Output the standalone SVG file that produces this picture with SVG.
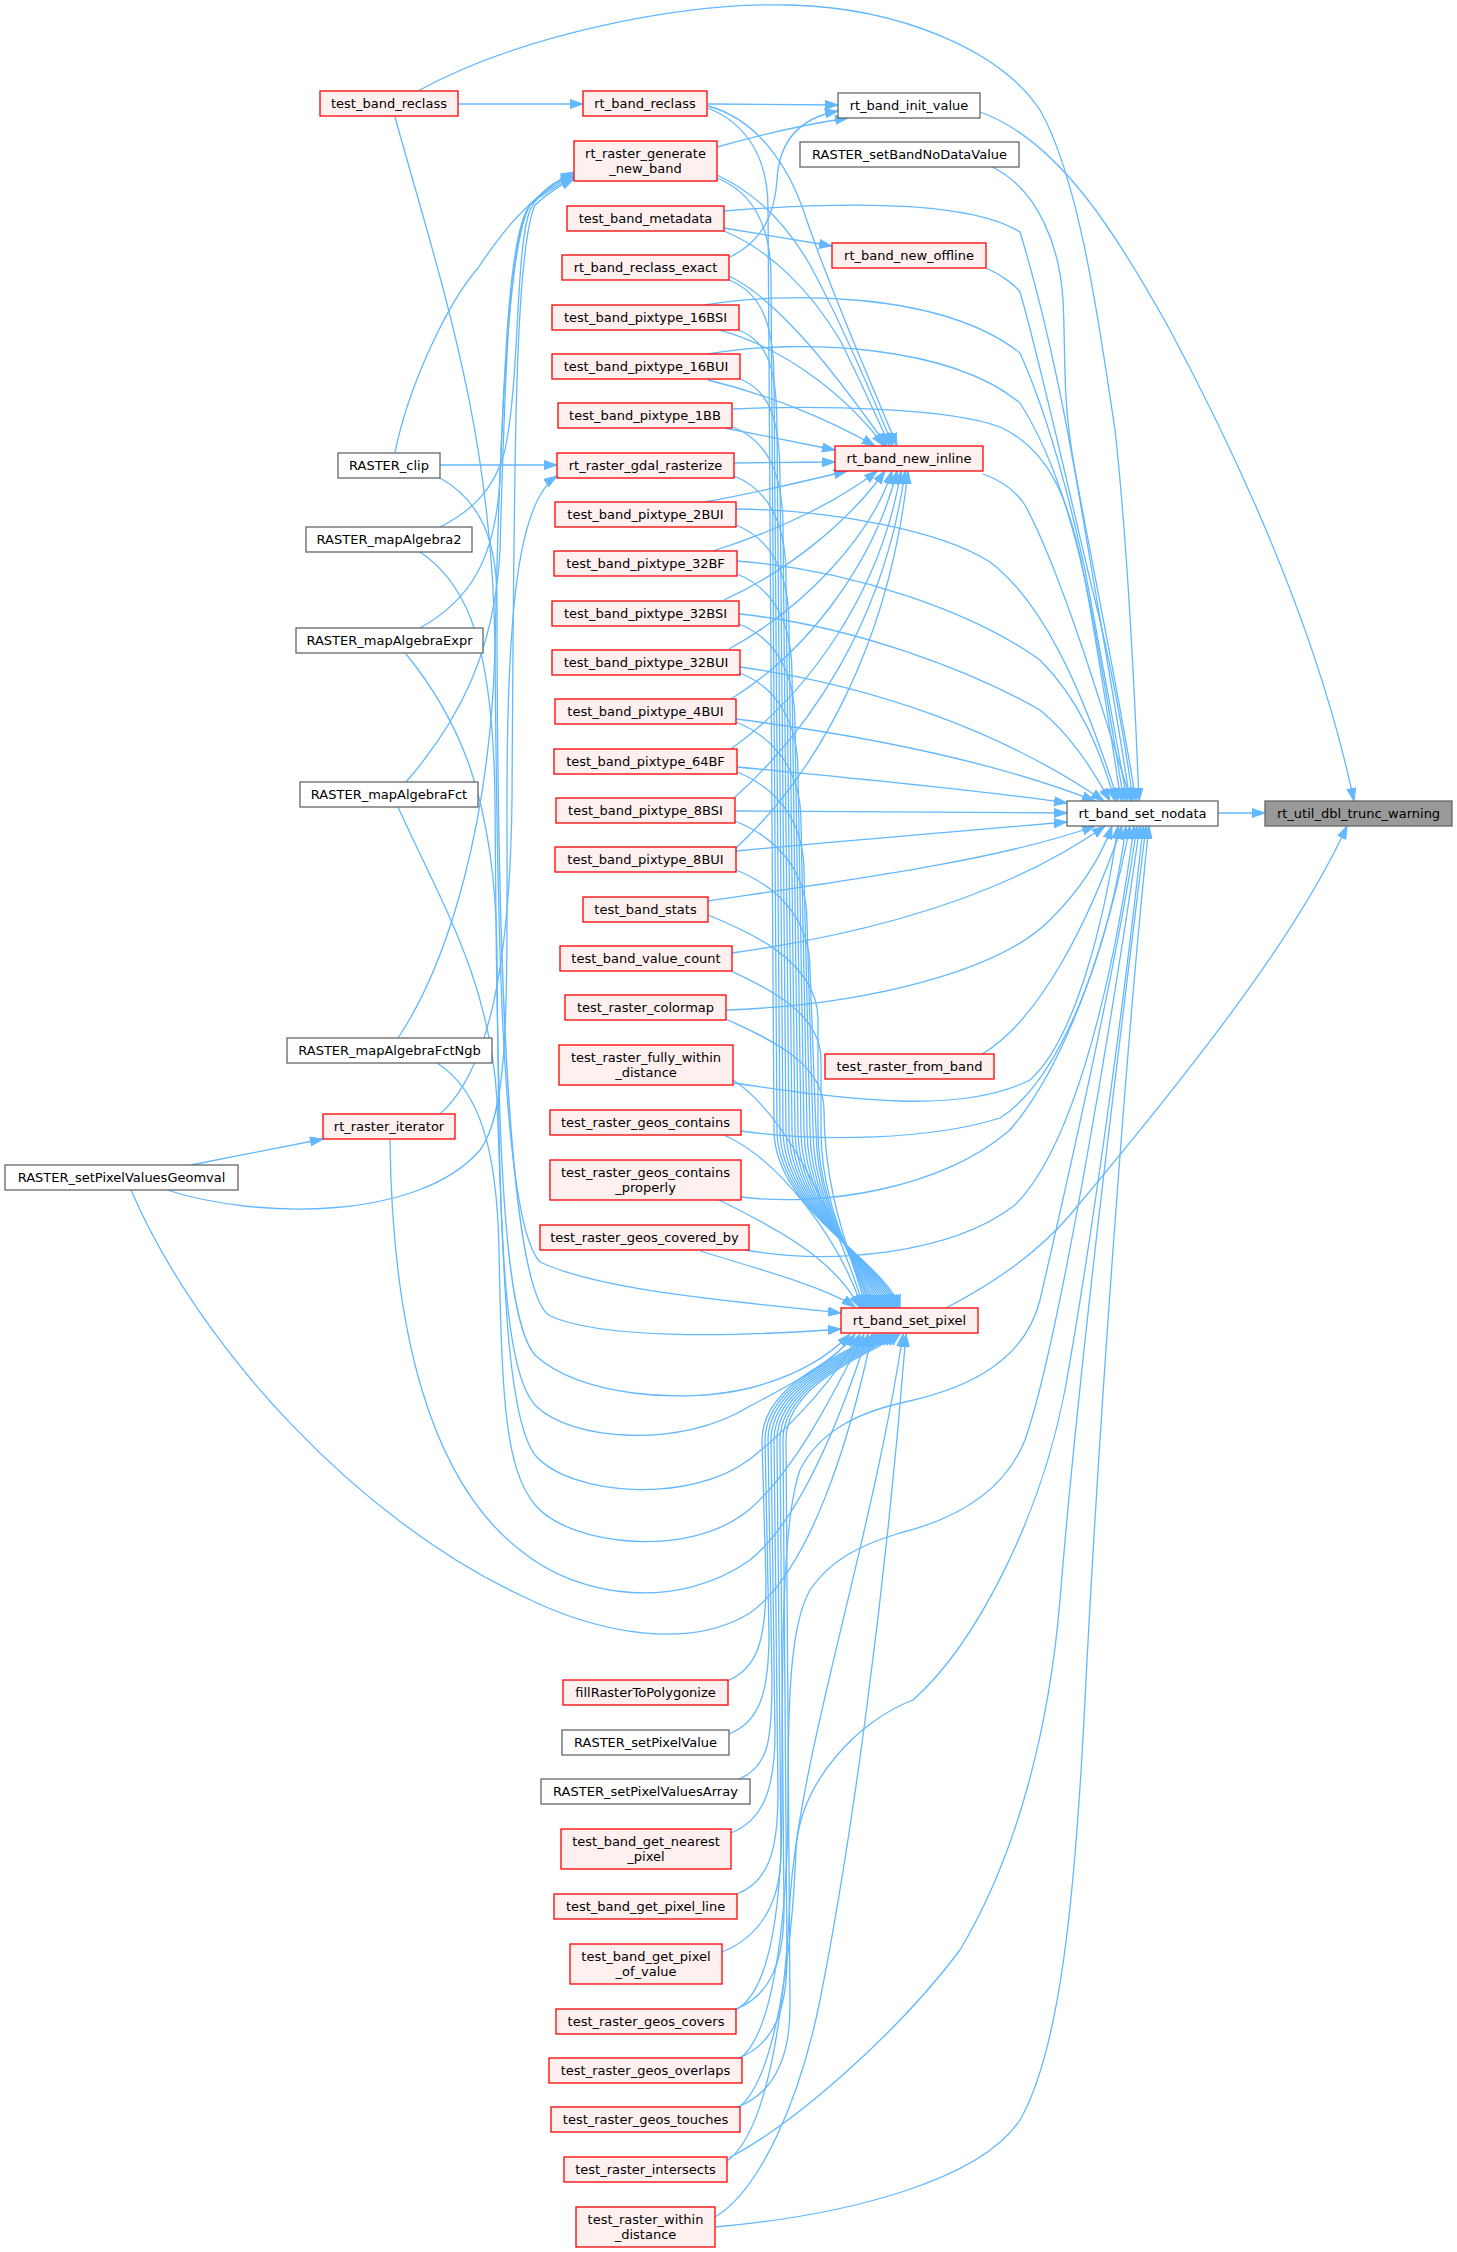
<svg xmlns="http://www.w3.org/2000/svg" width="1457" height="2252" viewBox="0 0 1457 2252">
<defs>
<marker id="a" markerUnits="userSpaceOnUse" markerWidth="14" markerHeight="10" refX="13" refY="5" orient="auto"><path d="M0,0.5 L13,5 L0,9.5 z" fill="#63b8ff" stroke="#63b8ff"/></marker>
</defs>
<style>
.r{fill:#fff0f0;stroke:#ff0000;stroke-width:1.3}
.g{fill:#ffffff;stroke:#666666;stroke-width:1.3}
.f{fill:#999999;stroke:#666666;stroke-width:1.3}
text{font-family:"DejaVu Sans","Liberation Sans",sans-serif;font-size:13px;text-anchor:middle;fill:#000}
.e{fill:none;stroke:#63b8ff;stroke-width:1.3;marker-end:url(#a)}
</style>
<rect width="1457" height="2252" fill="#ffffff"/>
<g id="edges">
<path class="e" d="M1218,813 L1265,813"/>
<path class="e" d="M980,112 C1060,140 1120,240 1170,330 C1250,480 1320,640 1354,801"/>
<path class="e" d="M946,1308 C1000,1280 1040,1250 1070,1215 C1200,1060 1300,930 1347,826"/>
<path class="e" d="M418,91 C520,35 680,2 790,5 C900,8 1000,50 1040,110 C1080,180 1100,330 1115,430 C1125,520 1133,650 1139,801"/>
<path class="e" d="M992,167 C1040,190 1060,250 1063,300 C1066,360 1062,400 1075,470 C1095,580 1120,700 1136,801"/>
<path class="e" d="M986,268 C1000,274 1015,285 1020,292 C1040,360 1080,540 1095,600 C1110,660 1125,740 1133,801"/>
<path class="e" d="M724,211 C800,205 960,195 1020,232 C1050,330 1070,440 1085,530 C1100,620 1118,720 1130,801"/>
<path class="e" d="M705,305 C780,292 940,290 1020,353 C1050,420 1070,500 1085,570 C1100,650 1115,730 1127,801"/>
<path class="e" d="M708,354 C800,338 950,345 1020,403 C1050,450 1070,510 1085,580 C1100,650 1112,730 1124,801"/>
<path class="e" d="M733,409 C820,405 950,408 1000,427 C1050,450 1070,500 1085,580 C1098,650 1110,730 1121,801"/>
<path class="e" d="M983,474 C1000,480 1015,490 1025,505 C1060,570 1100,700 1131,801"/>
<path class="e" d="M736,509 C830,510 940,530 990,562 C1040,600 1080,680 1118,801"/>
<path class="e" d="M737,561 C850,570 970,610 1040,660 C1080,700 1100,750 1115,801"/>
<path class="e" d="M739,614 C850,625 970,670 1040,710 C1070,735 1090,765 1110,801"/>
<path class="e" d="M740,667 C870,685 1000,730 1104,801"/>
<path class="e" d="M736,719 C860,735 990,760 1095,801"/>
<path class="e" d="M737,767 C850,778 980,790 1067,803"/>
<path class="e" d="M735,811 L1067,813"/>
<path class="e" d="M736,851 C850,840 980,830 1067,822"/>
<path class="e" d="M708,901 C850,880 1000,860 1095,826"/>
<path class="e" d="M732,953 C860,935 1000,900 1105,826"/>
<path class="e" d="M726,1010 C870,1005 1000,970 1050,920 C1080,890 1100,860 1112,826"/>
<path class="e" d="M734,1083 C850,1100 960,1115 1030,1080 C1075,1040 1105,920 1118,826"/>
<path class="e" d="M982,1054 C1040,1020 1090,920 1122,826"/>
<path class="e" d="M741,1131 C820,1142 930,1140 1000,1118 C1060,1080 1110,950 1126,826"/>
<path class="e" d="M741,1197 C820,1207 940,1190 1010,1130 C1070,1060 1110,930 1130,826"/>
<path class="e" d="M745,1250 C830,1265 950,1255 1015,1205 C1080,1140 1118,950 1134,826"/>
<path class="e" d="M736,2010 C772,1990 782,1900 782,1800 C782,1650 782,1520 800,1470 C820,1430 860,1412 905,1402 C970,1388 1025,1360 1040,1300 C1070,1170 1120,950 1137,826"/>
<path class="e" d="M739,2059 C776,2035 788,1900 788,1800 C788,1700 790,1625 810,1590 C830,1560 860,1545 900,1533 C960,1518 1005,1490 1025,1440 C1060,1340 1115,1000 1140,826"/>
<path class="e" d="M738,2108 C776,2080 792,1950 796,1850 C800,1780 860,1720 913,1700 C975,1645 1040,1520 1065,1390 C1090,1250 1125,1000 1143,826"/>
<path class="e" d="M729,2158 C800,2120 900,2030 960,1950 C1020,1850 1050,1720 1060,1600 C1080,1350 1125,1000 1146,826"/>
<path class="e" d="M715,2227 C850,2215 980,2180 1020,2120 C1060,2050 1075,1900 1085,1700 C1100,1400 1130,1000 1149,826"/>
<path class="e" d="M458,104 L583,104"/>
<path class="e" d="M708,104 L838,105"/>
<path class="e" d="M717,147 C760,135 800,125 848,118"/>
<path class="e" d="M730,257 C765,240 775,210 777,180 C779,140 800,118 838,111"/>
<path class="e" d="M724,228 L832,246"/>
<path class="e" d="M708,106 C760,120 790,170 805,215 C830,290 870,380 897,446"/>
<path class="e" d="M717,175 C760,195 790,230 810,265 C840,320 870,390 893,446"/>
<path class="e" d="M724,231 C770,250 810,290 840,340 C860,380 878,420 890,446"/>
<path class="e" d="M729,276 C780,300 840,380 887,446"/>
<path class="e" d="M720,330 C790,350 850,400 884,446"/>
<path class="e" d="M708,380 C770,395 830,420 875,446"/>
<path class="e" d="M725,428 L835,450"/>
<path class="e" d="M734,463 L835,462"/>
<path class="e" d="M705,502 C760,492 810,480 847,471"/>
<path class="e" d="M713,551 C780,530 840,500 877,471"/>
<path class="e" d="M724,600 C790,570 850,520 885,471"/>
<path class="e" d="M729,649 C800,610 870,540 892,471"/>
<path class="e" d="M731,699 C810,650 875,560 897,471"/>
<path class="e" d="M731,749 C800,700 880,600 901,471"/>
<path class="e" d="M734,798 C810,730 885,620 905,471"/>
<path class="e" d="M736,848 C820,770 890,640 908,471"/>
<path class="e" d="M708,108 C738,120 768,148 768,208 L774,1130 C774,1210 885,1260 900,1308"/>
<path class="e" d="M717,178 C747,190 771,218 771,278 L777,1130 C777,1210 883,1260 898,1308"/>
<path class="e" d="M729,280 C759,292 774,320 774,380 L780,1130 C780,1210 881,1260 896,1308"/>
<path class="e" d="M739,330 C769,342 777,370 777,430 L783,1130 C783,1210 879,1260 894,1308"/>
<path class="e" d="M740,379 C770,391 780,419 780,479 L786,1130 C786,1210 877,1260 892,1308"/>
<path class="e" d="M733,427 C763,439 783,467 783,527 L789,1130 C789,1210 875,1260 890,1308"/>
<path class="e" d="M734,476 C764,488 786,516 786,576 L792,1130 C792,1210 873,1260 888,1308"/>
<path class="e" d="M736,525 C766,537 789,565 789,625 L795,1130 C795,1210 871,1260 886,1308"/>
<path class="e" d="M737,574 C767,586 792,614 792,674 L798,1130 C798,1210 869,1260 884,1308"/>
<path class="e" d="M739,624 C769,636 795,664 795,724 L801,1130 C801,1210 867,1260 882,1308"/>
<path class="e" d="M740,673 C770,685 798,713 798,773 L804,1130 C804,1210 865,1260 880,1308"/>
<path class="e" d="M736,722 C766,734 801,762 801,822 L807,1130 C807,1210 863,1260 878,1308"/>
<path class="e" d="M737,772 C767,784 804,812 804,872 L810,1130 C810,1210 861,1260 876,1308"/>
<path class="e" d="M735,821 C765,833 807,861 807,921 L813,1130 C813,1210 859,1260 874,1308"/>
<path class="e" d="M736,870 C766,882 810,910 810,970 L816,1130 C816,1210 857,1260 872,1308"/>
<path class="e" d="M708,915 C745,930 818,960 818,1020 L818,1130 C818,1210 858,1260 870,1308"/>
<path class="e" d="M731,971 C760,985 821,1010 821,1060 L821,1130 C821,1210 856,1260 868,1308"/>
<path class="e" d="M726,1019 C760,1035 824,1060 824,1110 C824,1200 854,1260 866,1308"/>
<path class="e" d="M733,1080 C780,1110 830,1200 864,1308"/>
<path class="e" d="M724,1135 C780,1160 840,1240 862,1308"/>
<path class="e" d="M719,1200 C780,1230 835,1260 860,1308"/>
<path class="e" d="M700,1251 C780,1275 830,1290 855,1307"/>
<path class="e" d="M727,1681 C757,1669 766,1641 766,1581 L762,1440 C762,1380 856,1350 876,1334"/>
<path class="e" d="M729,1734 C759,1722 769,1694 769,1634 L765,1440 C765,1380 859,1350 879,1334"/>
<path class="e" d="M739,1779 C769,1767 772,1739 772,1679 L768,1440 C768,1380 862,1350 882,1334"/>
<path class="e" d="M731,1833 C761,1821 775,1793 775,1733 L771,1440 C771,1380 865,1350 885,1334"/>
<path class="e" d="M737,1894 C767,1882 778,1854 778,1794 L774,1440 C774,1380 868,1350 888,1334"/>
<path class="e" d="M722,1952 C752,1940 781,1912 781,1852 L777,1440 C777,1380 871,1350 891,1334"/>
<path class="e" d="M736,2009 C766,1997 784,1969 784,1909 L780,1440 C780,1380 874,1350 894,1334"/>
<path class="e" d="M739,2058 C769,2046 787,2018 787,1958 L783,1440 C783,1380 877,1350 897,1334"/>
<path class="e" d="M738,2107 C768,2095 790,2067 790,2007 L786,1440 C786,1380 880,1350 900,1334"/>
<path class="e" d="M727,2161 C770,2130 785,2000 790,1900 C800,1750 870,1550 903,1334"/>
<path class="e" d="M715,2217 C760,2190 800,2100 820,2000 C850,1850 885,1600 906,1334"/>
<path class="e" d="M395,117 C440,280 493,430 495,650 C497,900 500,1220 540,1262 C600,1290 720,1300 841,1313"/>
<path class="e" d="M440,478 C480,500 497,540 497,600 C497,900 505,1290 550,1316 C600,1338 720,1338 841,1329"/>
<path class="e" d="M420,552 C470,585 493,650 495,800 C497,1100 500,1320 536,1356 C580,1395 680,1405 750,1388 C800,1375 830,1355 850,1334"/>
<path class="e" d="M406,654 C460,720 495,800 497,950 C499,1200 500,1370 536,1406 C570,1440 680,1450 750,1406 C800,1380 835,1360 855,1334"/>
<path class="e" d="M398,807 C440,900 490,980 497,1100 C503,1250 505,1420 536,1456 C570,1495 690,1505 750,1459 C800,1420 840,1370 860,1334"/>
<path class="e" d="M437,1063 C480,1090 497,1150 499,1250 C502,1400 505,1470 536,1506 C570,1545 690,1560 750,1509 C800,1465 840,1380 864,1334"/>
<path class="e" d="M390,1140 C392,1330 430,1480 520,1550 C580,1600 680,1610 750,1560 C800,1520 840,1420 868,1334"/>
<path class="e" d="M131,1190 C200,1350 360,1520 520,1595 C600,1635 690,1650 750,1613 C810,1570 850,1440 872,1334"/>
<path class="e" d="M395,452 C410,380 450,300 478,268 C500,235 530,195 574,172"/>
<path class="e" d="M440,527 C470,512 495,490 505,450 C520,380 515,250 530,210 C540,190 555,180 574,174"/>
<path class="e" d="M420,628 C470,600 495,560 500,480 C505,350 510,230 530,205 C545,188 560,180 574,176"/>
<path class="e" d="M406,782 C460,720 495,650 500,550 C505,380 508,240 530,205 C545,190 560,182 574,177"/>
<path class="e" d="M398,1038 C450,960 490,820 495,650 C500,400 510,240 530,205 C545,192 560,184 574,178"/>
<path class="e" d="M440,1114 C490,1070 510,960 512,800 C514,450 515,250 535,205 C548,192 562,185 574,179"/>
<path class="e" d="M440,465 L557,465"/>
<path class="e" d="M191,1165 L323,1139"/>
<path class="e" d="M167,1190 C260,1220 420,1220 480,1150 C510,1110 507,1000 507,800 C507,600 520,500 557,476"/>
</g>
<g id="n_trunc"><rect class="f" x="1265" y="801" width="187" height="25"/><text x="1358.5" y="818">rt_util_dbl_trunc_warning</text></g>
<g id="n_nodata"><rect class="g" x="1067" y="801" width="151" height="25"/><text x="1142.5" y="818">rt_band_set_nodata</text></g>
<g id="n_init"><rect class="g" x="838" y="93" width="142" height="25"/><text x="909" y="110">rt_band_init_value</text></g>
<g id="n_setband"><rect class="g" x="800" y="142" width="219" height="25"/><text x="909.5" y="159">RASTER_setBandNoDataValue</text></g>
<g id="n_offline"><rect class="r" x="832" y="243" width="154" height="25"/><text x="909" y="260">rt_band_new_offline</text></g>
<g id="n_inline"><rect class="r" x="835" y="446" width="148" height="25"/><text x="909" y="463">rt_band_new_inline</text></g>
<g id="n_fromband"><rect class="r" x="825" y="1054" width="169" height="25"/><text x="909.5" y="1071">test_raster_from_band</text></g>
<g id="n_pixel"><rect class="r" x="841" y="1308" width="137" height="25"/><text x="909.5" y="1325">rt_band_set_pixel</text></g>
<g id="n_reclass"><rect class="r" x="583" y="91" width="124" height="25"/><text x="645" y="108">rt_band_reclass</text></g>
<g id="n_gennew"><rect class="r" x="574" y="141" width="143" height="40"/><text x="645.5" y="158">rt_raster_generate</text><text x="645.5" y="173">_new_band</text></g>
<g id="n_metadata"><rect class="r" x="567" y="206" width="157" height="25"/><text x="645.5" y="223">test_band_metadata</text></g>
<g id="n_reclassx"><rect class="r" x="562" y="255" width="167" height="25"/><text x="645.5" y="272">rt_band_reclass_exact</text></g>
<g id="n_16bsi"><rect class="r" x="552" y="305" width="187" height="25"/><text x="645.5" y="322">test_band_pixtype_16BSI</text></g>
<g id="n_16bui"><rect class="r" x="552" y="354" width="188" height="25"/><text x="646" y="371">test_band_pixtype_16BUI</text></g>
<g id="n_1bb"><rect class="r" x="558" y="403" width="174" height="25"/><text x="645" y="420">test_band_pixtype_1BB</text></g>
<g id="n_rasterize"><rect class="r" x="557" y="453" width="177" height="25"/><text x="645.5" y="470">rt_raster_gdal_rasterize</text></g>
<g id="n_2bui"><rect class="r" x="555" y="502" width="181" height="25"/><text x="645.5" y="519">test_band_pixtype_2BUI</text></g>
<g id="n_32bf"><rect class="r" x="554" y="551" width="183" height="25"/><text x="645.5" y="568">test_band_pixtype_32BF</text></g>
<g id="n_32bsi"><rect class="r" x="552" y="601" width="187" height="25"/><text x="645.5" y="618">test_band_pixtype_32BSI</text></g>
<g id="n_32bui"><rect class="r" x="552" y="650" width="188" height="25"/><text x="646" y="667">test_band_pixtype_32BUI</text></g>
<g id="n_4bui"><rect class="r" x="555" y="699" width="181" height="25"/><text x="645.5" y="716">test_band_pixtype_4BUI</text></g>
<g id="n_64bf"><rect class="r" x="554" y="749" width="183" height="25"/><text x="645.5" y="766">test_band_pixtype_64BF</text></g>
<g id="n_8bsi"><rect class="r" x="556" y="798" width="179" height="25"/><text x="645.5" y="815">test_band_pixtype_8BSI</text></g>
<g id="n_8bui"><rect class="r" x="555" y="847" width="181" height="25"/><text x="645.5" y="864">test_band_pixtype_8BUI</text></g>
<g id="n_stats"><rect class="r" x="583" y="897" width="125" height="25"/><text x="645.5" y="914">test_band_stats</text></g>
<g id="n_valcount"><rect class="r" x="560" y="946" width="172" height="25"/><text x="646" y="963">test_band_value_count</text></g>
<g id="n_colormap"><rect class="r" x="565" y="995" width="161" height="25"/><text x="645.5" y="1012">test_raster_colormap</text></g>
<g id="n_fullywithin"><rect class="r" x="559" y="1045" width="174" height="40"/><text x="646" y="1062">test_raster_fully_within</text><text x="646" y="1077">_distance</text></g>
<g id="n_contains"><rect class="r" x="550" y="1110" width="191" height="25"/><text x="645.5" y="1127">test_raster_geos_contains</text></g>
<g id="n_containsp"><rect class="r" x="550" y="1160" width="191" height="40"/><text x="645.5" y="1177">test_raster_geos_contains</text><text x="645.5" y="1192">_properly</text></g>
<g id="n_coveredby"><rect class="r" x="540" y="1225" width="209" height="25"/><text x="644.5" y="1242">test_raster_geos_covered_by</text></g>
<g id="n_fill"><rect class="r" x="563" y="1680" width="165" height="25"/><text x="645.5" y="1697">fillRasterToPolygonize</text></g>
<g id="n_setpixval"><rect class="g" x="562" y="1730" width="167" height="25"/><text x="645.5" y="1747">RASTER_setPixelValue</text></g>
<g id="n_setpixarr"><rect class="g" x="541" y="1779" width="209" height="25"/><text x="645.5" y="1796">RASTER_setPixelValuesArray</text></g>
<g id="n_nearest"><rect class="r" x="561" y="1829" width="170" height="40"/><text x="646" y="1846">test_band_get_nearest</text><text x="646" y="1861">_pixel</text></g>
<g id="n_pixline"><rect class="r" x="554" y="1894" width="183" height="25"/><text x="645.5" y="1911">test_band_get_pixel_line</text></g>
<g id="n_pixofval"><rect class="r" x="570" y="1944" width="152" height="40"/><text x="646" y="1961">test_band_get_pixel</text><text x="646" y="1976">_of_value</text></g>
<g id="n_covers"><rect class="r" x="556" y="2009" width="180" height="25"/><text x="646" y="2026">test_raster_geos_covers</text></g>
<g id="n_overlaps"><rect class="r" x="549" y="2058" width="193" height="25"/><text x="645.5" y="2075">test_raster_geos_overlaps</text></g>
<g id="n_touches"><rect class="r" x="551" y="2107" width="189" height="25"/><text x="645.5" y="2124">test_raster_geos_touches</text></g>
<g id="n_intersects"><rect class="r" x="564" y="2157" width="163" height="25"/><text x="645.5" y="2174">test_raster_intersects</text></g>
<g id="n_within"><rect class="r" x="576" y="2207" width="139" height="40"/><text x="645.5" y="2224">test_raster_within</text><text x="645.5" y="2239">_distance</text></g>
<g id="n_tbreclass"><rect class="r" x="320" y="91" width="138" height="25"/><text x="389" y="108">test_band_reclass</text></g>
<g id="n_clip"><rect class="g" x="338" y="453" width="102" height="25"/><text x="389" y="470">RASTER_clip</text></g>
<g id="n_ma2"><rect class="g" x="306" y="527" width="166" height="25"/><text x="389" y="544">RASTER_mapAlgebra2</text></g>
<g id="n_maexpr"><rect class="g" x="296" y="628" width="187" height="25"/><text x="389.5" y="645">RASTER_mapAlgebraExpr</text></g>
<g id="n_mafct"><rect class="g" x="300" y="782" width="178" height="25"/><text x="389" y="799">RASTER_mapAlgebraFct</text></g>
<g id="n_mafctngb"><rect class="g" x="287" y="1038" width="205" height="25"/><text x="389.5" y="1055">RASTER_mapAlgebraFctNgb</text></g>
<g id="n_iter"><rect class="r" x="323" y="1114" width="132" height="25"/><text x="389" y="1131">rt_raster_iterator</text></g>
<g id="n_geomval"><rect class="g" x="5" y="1165" width="233" height="25"/><text x="121.5" y="1182">RASTER_setPixelValuesGeomval</text></g>
</svg>
